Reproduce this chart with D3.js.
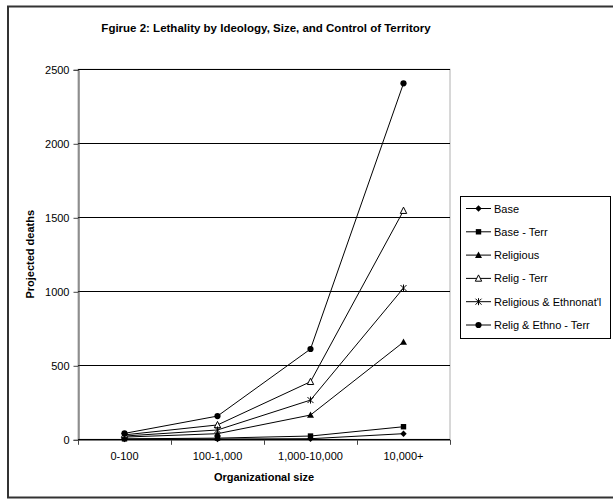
<!DOCTYPE html>
<html>
<head>
<meta charset="utf-8">
<script src="https://cdn.jsdelivr.net/npm/d3@7/dist/d3.min.js"></script>
<style>
  body { margin: 0; background: #fff; }
  svg { display: block; font-family: "Liberation Sans", Arial, sans-serif; }
</style>
</head>
<body>
<svg id="chart" width="613" height="500"></svg>
<script>
// Organizational size categories
const categories = ["0-100", "100-1,000", "1,000-10,000", "10,000+"];

// Projected deaths per series
const base          = [1, 2, 4, 38];
const baseTerr      = [3, 8, 22, 85];
const religious     = [15, 38, 164, 657];
const religTerr     = [30, 97, 389, 1545];
const religEthno    = [22, 63, 265, 1022];
const religEthnoTerr = [40, 157, 610, 2405];

const yTicks = [0, 500, 1000, 1500, 2000, 2500];

const seriesList = [
  { name: "Base", values: base, marker: "diamond" },
  { name: "Base - Terr", values: baseTerr, marker: "square" },
  { name: "Religious", values: religious, marker: "triangle" },
  { name: "Relig - Terr", values: religTerr, marker: "triangleOpen" },
  { name: "Religious & Ethnonat'l", values: religEthno, marker: "star" },
  { name: "Relig & Ethno - Terr", values: religEthnoTerr, marker: "circle" }
];

const svg = d3.select("#chart");

// Outer chart frame
svg.append("rect")
  .attr("x", 8).attr("y", 6.5).attr("width", 612).attr("height", 491)
  .attr("fill", "#fff").attr("stroke", "#333").attr("stroke-width", 2);

const plot = { left: 78, right: 450, top: 69.3, bottom: 439.3 };

const x = d3.scaleBand().domain(categories).range([plot.left, plot.right]);
const y = d3.scaleLinear().domain([0, 2500]).range([plot.bottom, plot.top]);

// Plot area border (gray)
svg.append("rect")
  .attr("x", plot.left).attr("y", plot.top)
  .attr("width", plot.right - plot.left).attr("height", plot.bottom - plot.top)
  .attr("fill", "none").attr("stroke", "#b0b0b0").attr("stroke-width", 1);

// Horizontal gridlines
svg.append("g").selectAll("line").data(yTicks.filter(d => d > 0)).join("line")
  .attr("x1", plot.left).attr("x2", plot.right)
  .attr("y1", d => Math.round(y(d)) + 0.5).attr("y2", d => Math.round(y(d)) + 0.5)
  .attr("stroke", "#000").attr("stroke-width", 1);

// Y axis
const yAxis = d3.axisLeft(y).tickValues(yTicks).tickFormat(d3.format("d")).tickSize(5).tickPadding(4);
const gy = svg.append("g").attr("transform", `translate(${plot.left + 0.5},0.5)`).call(yAxis);
gy.select(".domain").attr("stroke", "#444");
gy.selectAll(".tick line").attr("stroke", "#444");
gy.selectAll(".tick text").attr("font-size", 11).attr("fill", "#000")
  .attr("font-family", "Liberation Sans, Arial, sans-serif");

// X axis: ticks at category boundaries
const gx = svg.append("g").attr("transform", `translate(0,${plot.bottom + 0.5})`);
gx.append("line").attr("x1", plot.left).attr("x2", plot.right)
  .attr("stroke", "#000").attr("stroke-width", 1.5);
const bounds = categories.map(c => x(c)).concat([plot.right]);
gx.selectAll("line.tk").data(bounds).join("line").attr("class", "tk")
  .attr("x1", d => Math.round(d) + 0.5).attr("x2", d => Math.round(d) + 0.5)
  .attr("y1", 0).attr("y2", 5).attr("stroke", "#444");
gx.selectAll("text").data(categories).join("text")
  .attr("x", d => x(d) + x.bandwidth() / 2)
  .attr("y", 20)
  .attr("text-anchor", "middle")
  .attr("font-size", 11)
  .text(d => d);

// Axis titles
svg.append("text")
  .attr("x", 264).attr("y", 481)
  .attr("text-anchor", "middle").attr("font-size", 11).attr("font-weight", "bold")
  .text("Organizational size");
svg.append("text")
  .attr("transform", `translate(34,${(plot.top + plot.bottom) / 2}) rotate(-90)`)
  .attr("text-anchor", "middle").attr("font-size", 11).attr("font-weight", "bold")
  .text("Projected deaths");

// Title
svg.append("text")
  .attr("x", 266).attr("y", 32)
  .attr("text-anchor", "middle").attr("font-size", 11.5).attr("font-weight", "bold")
  .text("Fgirue 2: Lethality by Ideology, Size, and Control of Territory");

// Marker drawing
function drawMarker(g, type, cx, cy) {
  switch (type) {
    case "diamond":
      g.append("path").attr("d", `M${cx},${cy - 3.2}L${cx + 3.2},${cy}L${cx},${cy + 3.2}L${cx - 3.2},${cy}Z`)
        .attr("fill", "#000");
      break;
    case "square":
      g.append("rect").attr("x", cx - 2.7).attr("y", cy - 2.7).attr("width", 5.4).attr("height", 5.4)
        .attr("fill", "#000");
      break;
    case "triangle":
      g.append("path").attr("d", `M${cx},${cy - 3.5}L${cx + 3.5},${cy + 2.8}L${cx - 3.5},${cy + 2.8}Z`)
        .attr("fill", "#000");
      break;
    case "triangleOpen":
      g.append("path").attr("d", `M${cx},${cy - 3.5}L${cx + 3.2},${cy + 2.8}L${cx - 3.2},${cy + 2.8}Z`)
        .attr("fill", "#fff").attr("stroke", "#000").attr("stroke-width", 1);
      break;
    case "star":
      g.append("path").attr("d",
        `M${cx - 3},${cy - 3}L${cx + 3},${cy + 3}M${cx + 3},${cy - 3}L${cx - 3},${cy + 3}M${cx},${cy - 3.5}L${cx},${cy + 3.5}`)
        .attr("stroke", "#000").attr("stroke-width", 1).attr("fill", "none");
      break;
    case "circle":
      g.append("circle").attr("cx", cx).attr("cy", cy).attr("r", 3.1).attr("fill", "#000");
      break;
  }
}

// Series lines and markers
const line = d3.line()
  .x((d, i) => x(categories[i]) + x.bandwidth() / 2)
  .y(d => y(d));

const seriesG = svg.append("g");
seriesList.forEach(s => {
  seriesG.append("path").datum(s.values)
    .attr("d", line).attr("fill", "none").attr("stroke", "#000").attr("stroke-width", 1);
});
seriesList.forEach(s => {
  const g = seriesG.append("g");
  s.values.forEach((v, i) => drawMarker(g, s.marker, x(categories[i]) + x.bandwidth() / 2, y(v)));
});

// Legend
const legend = svg.append("g");
legend.append("rect")
  .attr("x", 460.5).attr("y", 196.5).attr("width", 150).attr("height", 142)
  .attr("fill", "#fff").attr("stroke", "#000").attr("stroke-width", 1);
seriesList.forEach((s, i) => {
  const ly = 208.5 + i * 23.3;
  const g = legend.append("g");
  g.append("line").attr("x1", 466).attr("x2", 491).attr("y1", ly).attr("y2", ly)
    .attr("stroke", "#000").attr("stroke-width", 1);
  drawMarker(g, s.marker, 478.5, ly);
  g.append("text").attr("x", 494).attr("y", ly + 4)
    .attr("font-size", 11).text(s.name);
});
</script>
</body>
</html>
